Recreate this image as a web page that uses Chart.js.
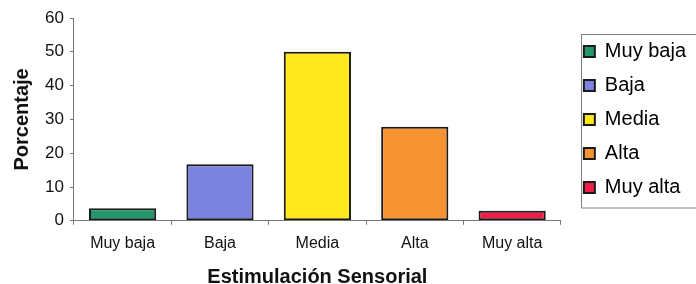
<!DOCTYPE html>
<html>
<head>
<meta charset="utf-8">
<script src="https://cdn.jsdelivr.net/npm/chart.js@4"></script>
<style>
  html, body { margin: 0; padding: 0; background: #fff; }
  #wrap { width: 696px; height: 284px; }
</style>
</head>
<body>
<div id="wrap"><canvas id="chart"></canvas></div>
<script>
const categories = ['Muy baja', 'Baja', 'Media', 'Alta', 'Muy alta'];
const porcentaje = [3.7, 16.7, 50, 27.8, 3.0];
const barColors = ['#23966b', '#7c82e0', '#ffe81e', '#f59232', '#ee1e48'];
const yTicks = [0, 10, 20, 30, 40, 50, 60];

const FONT = 'Arial, "Liberation Sans", sans-serif';

// thin gray frame round the legend, like the spreadsheet original
const legendFrame = {
    id: 'legendFrame',
    afterDraw: function (chart) {
        const lg = chart.legend;
        if (!lg || !lg.legendHitBoxes.length) return;
        const boxes = lg.legendHitBoxes;
        const first = boxes[0];
        const last = boxes[boxes.length - 1];
        const ctx = chart.ctx;
        ctx.save();
        ctx.strokeStyle = '#808080';
        ctx.lineWidth = 1;
        const x = Math.round(first.left - 3) + 0.5;
        const y = Math.round(first.top - 7) + 0.5;
        const h = Math.round(last.top + last.height + 11) - y;
        ctx.strokeRect(x, y, 720 - x, h);
        ctx.restore();
    }
};

const ctx = document.getElementById('chart').getContext('2d');

new Chart(ctx, {
    type: 'bar',
    data: {
        labels: categories,
        datasets: [{
            label: 'Porcentaje',
            data: porcentaje,
            backgroundColor: barColors,
            borderColor: '#1a1a1a',
            borderWidth: 2,
            borderSkipped: false,
            categoryPercentage: 1,
            barPercentage: 0.69
        }]
    },
    options: {
        responsive: true,
        maintainAspectRatio: false,
        animation: false,
        layout: {
            padding: { left: 6, top: 18, right: 0, bottom: 0 }
        },
        plugins: {
            tooltip: { enabled: false },
            legend: {
                position: 'right',
                align: 'center',
                fullSize: false,
                maxWidth: 200,
                labels: {
                    color: '#111',
                    font: { family: FONT, size: 20 },
                    boxWidth: 11,
                    boxHeight: 11,
                    padding: 14,
                    generateLabels: function (chart) {
                        return categories.map(function (c, i) {
                            return {
                                text: c,
                                fillStyle: barColors[i],
                                strokeStyle: '#1a1a1a',
                                lineWidth: 2,
                                index: i
                            };
                        });
                    }
                }
            }
        },
        scales: {
            x: {
                grid: {
                    display: true,
                    drawOnChartArea: false,
                    drawTicks: true,
                    tickLength: 4,
                    color: '#777'
                },
                border: { display: true, color: '#777', width: 1 },
                ticks: {
                    color: '#111',
                    padding: 9,
                    font: { family: FONT, size: 16 }
                },
                title: {
                    display: true,
                    text: 'Estimulación Sensorial',
                    color: '#111',
                    font: { family: FONT, size: 20, weight: 'bold', lineHeight: 0.7 },
                    padding: { top: 8, bottom: 0 }
                }
            },
            y: {
                min: 0,
                max: 60,
                afterBuildTicks: function (scale) {
                    scale.ticks = yTicks.map(function (v) { return { value: v }; });
                },
                grid: {
                    display: true,
                    drawOnChartArea: false,
                    drawTicks: true,
                    tickLength: 4,
                    color: '#777'
                },
                border: { display: true, color: '#777', width: 1 },
                ticks: {
                    color: '#111',
                    padding: 6,
                    font: { family: FONT, size: 17 }
                },
                title: {
                    display: true,
                    text: 'Porcentaje',
                    color: '#111',
                    font: { family: FONT, size: 20, weight: 'bold' },
                    padding: { top: 4, bottom: 5 }
                }
            },
            // empty spacer axis, keeps a gap between plot and legend
            gap: {
                type: 'linear',
                position: 'right',
                display: true,
                grid: { display: false },
                border: { display: false },
                ticks: { display: false },
                afterFit: function (scale) { scale.width = 9; }
            }
        }
    },
    plugins: [legendFrame]
});
</script>
</body>
</html>
